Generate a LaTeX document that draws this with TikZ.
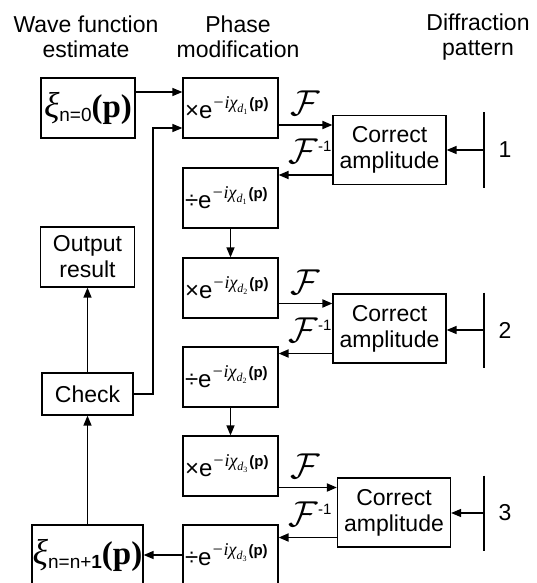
\RequirePackage{fix-cm}
\documentclass[tikz,border=0pt]{standalone}
\usepackage{fontspec}
\setmainfont{Liberation Sans}
\newfontfamily\lserif{Liberation Serif}
\usetikzlibrary{arrows.meta}
\newcommand\phasetxt[2]{{\fontsize{24}{24}\selectfont #1e}\raisebox{10pt}{\fontsize{18}{18}\selectfont{\lserif\itshape −iχ}\raisebox{-4pt}{\fontsize{12}{12}\selectfont\lserif\itshape d\raisebox{-1.5pt}{\fontsize{8}{8}\selectfont\upshape #2}}\hspace{2pt}{\fontsize{15}{15}\selectfont\bfseries(p)}}}
\newcommand\xitxt[1]{{\lserif\itshape\fontsize{36}{36}\selectfont ξ}\raisebox{-4pt}{\fontsize{19}{19}\selectfont #1}{\lserif\bfseries\fontsize{33}{33}\selectfont(p)}}
\newcommand\Fsym{{\fontsize{36}{36}\selectfont$\mathcal{F}$}}
\newcommand\Finv{{\fontsize{36}{36}\selectfont$\mathcal{F}$}\raisebox{12pt}{\fontsize{15}{15}\selectfont -1}}
\begin{document}
\begin{tikzpicture}[x=1pt,y=-1pt,
 box/.style={draw, line width=1.2pt, inner sep=0pt, align=center, font=\fontsize{23}{26}\selectfont},
 pbox/.style={box, minimum width=95pt, minimum height=60pt, text width=91pt, align=left},
 ca/.style={box, minimum width=113pt, minimum height=69pt},
 arr/.style={line width=1.3pt, -{Triangle[length=10pt,width=8pt]}},
 farr/.style={line width=1.8pt, -{Triangle[length=10pt,width=8pt]}},
 lbl/.style={inner sep=0pt, align=center, font=\fontsize{23}{25}\selectfont},
 fl/.style={inner sep=0pt},
 pline/.style={line width=1.3pt}]
\useasboundingbox (0,0) rectangle (537,583);
\clip (0,0) rectangle (537,583);
% headers
\node[lbl] (h1) at (86,37) {Wave function\\estimate};
\node[lbl] (h2) at (238,37) {Phase\\modification};
\node[lbl] (h3) at (478,37) {Diffraction\\pattern};
% left column
\node[box, minimum width=94pt, minimum height=60pt] (xi0) at (88,108) {\xitxt{n=0}};
\node[box, minimum width=94pt, minimum height=60pt] (out) at (87.5,257) {Output\\result};
\node[box, minimum width=91pt, minimum height=42pt] (chk) at (87.5,394) {Check};
\node[box, minimum width=111pt, minimum height=60pt] (xi1) at (87.5,555) {\xitxt{n=n+\textbf{1}}};
% middle column
\node[pbox] (m1) at (230.5,108) {\phasetxt{×}{1}};
\node[pbox] (d1) at (230.5,198) {\phasetxt{÷}{1}};
\node[pbox] (m2) at (230.5,288) {\phasetxt{×}{2}};
\node[pbox] (d2) at (230.5,377) {\phasetxt{÷}{2}};
\node[pbox] (m3) at (230.5,466) {\phasetxt{×}{3}};
\node[pbox] (d3) at (230.5,555) {\phasetxt{÷}{3}};
% correct amplitude
\node[ca] (c1) at (389.5,150) {Correct\\amplitude};
\node[ca] (c2) at (389.5,328.5) {Correct\\amplitude};
\node[ca] (c3) at (394,512.5) {Correct\\amplitude};
% diffraction patterns
\coordinate (p1) at (484,150);
\coordinate (p2) at (484,330);
\coordinate (p3) at (484,513);
\foreach \p in {p1,p2,p3}{\draw[pline] ([yshift=37.5pt]\p) -- ([yshift=-37.5pt]\p);}
\node[lbl] (n1) at (505,150) {1};
\node[lbl] (n2) at (505,330) {2};
\node[lbl] (n3) at (505,513) {3};
\draw[arr] (p1) -- (p1 -| c1.east);
\draw[arr] (p2) -- (p2 -| c2.east);
\draw[arr] (p3) -- (p3 -| c3.east);
% forward / inverse transforms
\coordinate (f1) at ([yshift=25pt]c1.west);
\coordinate (g1) at ([yshift=-25pt]c1.west);
\coordinate (f2) at ([yshift=25pt]c2.west);
\coordinate (g2) at ([yshift=-25pt]c2.west);
\coordinate (f3) at ([yshift=25pt]c3.west);
\coordinate (g3) at ([yshift=-25pt]c3.west);
\draw[farr] (m1.east |- f1) -- (f1);
\draw[farr] (g1) -- (g1 -| d1.east);
\draw[farr] (m2.east |- f2) -- (f2);
\draw[farr] (g2) -- (g2 -| d2.east);
\draw[farr] (m3.east |- f3) -- (f3);
\draw[farr] (g3) -- (g3 -| d3.east);
\node[fl] (F1) at (305,103) {\Fsym};
\node[fl] (Fi1) at (310,151) {\Finv};
\node[fl] (F2) at (305,282) {\Fsym};
\node[fl] (Fi2) at (310,330) {\Finv};
\node[fl] (F3) at (305,466) {\Fsym};
\node[fl] (Fi3) at (310,514) {\Finv};
% chain
\draw[arr] (d1.south) -- (m2.north);
\draw[arr] (d2.south) -- (m3.north);
\draw[arr] ([yshift=16pt]xi0.east) -- ([yshift=16pt]m1.west);
\coordinate (turn) at (153,128);
\draw[arr] (chk.east) -| (turn) -- (turn -| m1.west);
\draw[arr] (d3.west) -- (xi1.east);
\draw[arr] (xi1.north) -- (chk.south);
\draw[arr] (chk.north) -- (out.south);
\end{tikzpicture}
\end{document}
